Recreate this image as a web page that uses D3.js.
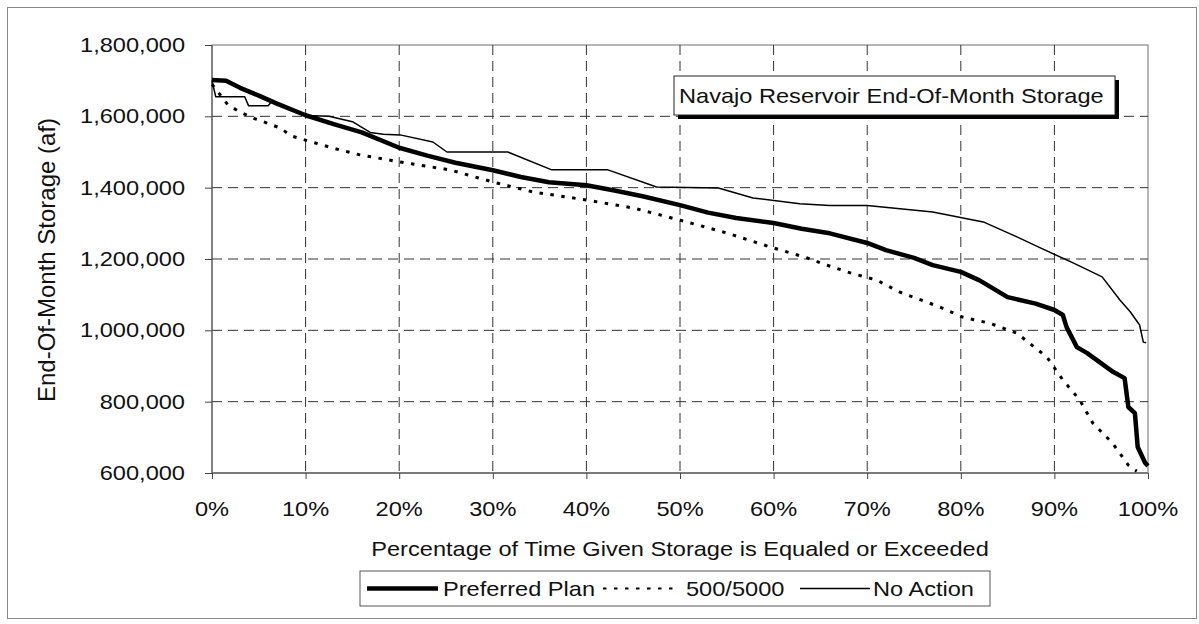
<!DOCTYPE html>
<html>
<head>
<meta charset="utf-8">
<script src="https://cdn.jsdelivr.net/npm/d3@7/dist/d3.min.js"></script>
<style>
  html, body { margin: 0; padding: 0; background: #fff; }
  svg { display: block; }
  text { font-family: "Liberation Sans", Arial, Helvetica, sans-serif; fill: #111; }
</style>
</head>
<body>
<svg id="chart" width="1199" height="624"></svg>
<script>
// ---- data ----
const seriesNames = ["Preferred Plan", "500/5000", "No Action"];
const chartTitle = "Navajo Reservoir End-Of-Month Storage";
const xAxisTitle = "Percentage of Time Given Storage is Equaled or Exceeded";
const yAxisTitle = "End-Of-Month Storage (af)";
const xTicks = [0, 10, 20, 30, 40, 50, 60, 70, 80, 90, 100];
const yTicks = [600000, 800000, 1000000, 1200000, 1400000, 1600000, 1800000];

const preferredPlan = [
  [0,1702000],[1.5,1700000],[3,1680000],[5,1658000],[7,1635000],[10,1603000],
  [13,1578000],[16,1555000],[20,1512000],[23,1490000],[26,1470000],[30,1449000],
  [33,1430000],[36,1415000],[40,1407000],[43,1392000],[46,1376000],[50,1351000],
  [53,1330000],[56,1315000],[60,1301000],[63,1285000],[66,1272000],[70,1245000],
  [72,1225000],[75,1203000],[77,1183000],[80,1164000],[82,1140000],[85,1093000],
  [88,1075000],[90,1057000],[90.9,1043000],[91.3,1009000],[92.4,953000],[93.5,936000],
  [96.3,883000],[97.5,866000],[97.9,785000],[98.6,768000],[98.9,673000],[99.7,628000],
  [100,620000]
];
const plan5005000 = [
  [0,1690000],[1.7,1632000],[3,1612000],[4.4,1595000],[5.9,1581000],[7.3,1567000],
  [8.5,1545000],[9.9,1534000],[12.9,1511000],[15.8,1492000],[20.1,1472000],[25.4,1450000],
  [30,1416000],[34.3,1388000],[40.1,1365000],[45,1343000],[50,1309000],[55,1273000],
  [59.6,1234000],[63.6,1203000],[65,1189000],[68.2,1161000],[71,1141000],[73.5,1107000],
  [77.8,1065000],[80.2,1037000],[83.1,1020000],[86,992000],[89.2,925000],[90.9,861000],
  [92.7,805000],[94.1,740000],[96.2,684000],[97.9,622000],[98.8,605000]
];
const noAction = [
  [0,1700000],[0.4,1655000],[3.5,1655000],[3.9,1630000],[6,1630000],[6.4,1642000],
  [8,1622000],[10,1602000],[12.5,1600000],[15,1585000],[16.9,1555000],[18.3,1550000],
  [20.1,1548000],[23.6,1528000],[25.1,1500000],[31.6,1500000],[36.3,1450000],[42.3,1450000],
  [47.5,1402000],[54.1,1399000],[57.8,1371000],[62.8,1355000],[66,1350000],[70,1350000],
  [77,1332000],[82.4,1304000],[86,1262000],[88.5,1231000],[92,1189000],[95.1,1150000],
  [97,1085000],[98.1,1052000],[99.1,1015000],[99.5,967000],[99.8,965000]
];

// ---- layout ----
const svg = d3.select("#chart");
const plot = { left: 212, right: 1148, top: 45, bottom: 473 };
const SX = 1.18; // horizontal stretch of the scanned lettering

const x = d3.scaleLinear().domain([0, 100]).range([plot.left, plot.right]);
const y = d3.scaleLinear().domain([600000, 1800000]).range([plot.bottom, plot.top]);

function stretchedText(parent, tx, ty, str, size, anchor) {
  const g = parent.append("g").attr("transform", `translate(${tx},${ty}) scale(${SX},1)`);
  g.append("text").attr("x", 0).attr("y", 0)
    .attr("font-size", size).attr("text-anchor", anchor || "start").text(str);
  return g;
}

// outer frame
svg.append("rect").attr("x", 7.5).attr("y", 7.5).attr("width", 1189).attr("height", 611)
  .attr("fill", "#fff").attr("stroke", "#888").attr("stroke-width", 1);

// plot area border
svg.append("rect").attr("x", plot.left).attr("y", plot.top)
  .attr("width", plot.right - plot.left).attr("height", plot.bottom - plot.top)
  .attr("fill", "#fff").attr("stroke", "#888").attr("stroke-width", 1.2);

// gridlines
const grid = svg.append("g");
grid.selectAll("line.h").data(yTicks.slice(1, -1)).enter().append("line")
  .attr("x1", plot.left).attr("x2", plot.right)
  .attr("y1", d => y(d)).attr("y2", d => y(d))
  .attr("stroke", "#333").attr("stroke-width", 1).attr("stroke-dasharray", "10,6");
grid.selectAll("line.v").data(xTicks.slice(1, -1)).enter().append("line")
  .attr("y1", plot.top).attr("y2", plot.bottom)
  .attr("x1", d => x(d)).attr("x2", d => x(d))
  .attr("stroke", "#333").attr("stroke-width", 1).attr("stroke-dasharray", "10,6");

// axes
const yAxis = svg.append("g").attr("transform", `translate(${plot.left},0)`)
  .call(d3.axisLeft(y).tickValues(yTicks).tickSize(7).tickFormat(""));
const xAxis = svg.append("g").attr("transform", `translate(0,${plot.bottom})`)
  .call(d3.axisBottom(x).tickValues(xTicks).tickSize(6).tickFormat(""));
[xAxis, yAxis].forEach(a => {
  a.select(".domain").attr("stroke", "#666").attr("stroke-width", 1.3);
  a.selectAll(".tick line").attr("stroke", "#444").attr("stroke-width", 1);
});
xAxis.select(".domain").attr("d", `M${plot.left},0H${plot.right}`);
yAxis.select(".domain").attr("d", `M0,${plot.bottom}V${plot.top}`);

// tick labels
const fmt = d3.format(",");
yTicks.forEach(v => stretchedText(svg, 185, y(v) + 7, fmt(v), 20, "end"));
xTicks.forEach(v => stretchedText(svg, x(v), 516, v + "%", 20, "middle"));

// axis titles
stretchedText(svg, (plot.left + plot.right) / 2, 556, xAxisTitle, 20, "middle");
svg.append("text").attr("transform", "translate(55,260) rotate(-90)")
  .attr("font-size", 24).attr("text-anchor", "middle").text(yAxisTitle);

// series
const line = d3.line().x(d => x(d[0])).y(d => y(d[1]));
const styles = [
  { data: preferredPlan, width: 4.5, dash: null, legendWidth: 4.5 },
  { data: plan5005000, width: 3, dash: "3.5,7.5", legendWidth: 2 },
  { data: noAction, width: 1.5, dash: null, legendWidth: 1.6 }
];
const seriesG = svg.append("g");
[styles[1], styles[2], styles[0]].forEach(s => {
  seriesG.append("path").datum(s.data).attr("d", line)
    .attr("fill", "none").attr("stroke", "#000")
    .attr("stroke-width", s.width).attr("stroke-linejoin", "round")
    .attr("stroke-dasharray", s.dash);
});

// title box with shadow
const tb = { x: 674, y: 76, w: 441, h: 39 };
svg.append("rect").attr("x", tb.x + 4).attr("y", tb.y + 4).attr("width", tb.w).attr("height", tb.h)
  .attr("fill", "#000");
svg.append("rect").attr("x", tb.x).attr("y", tb.y).attr("width", tb.w).attr("height", tb.h)
  .attr("fill", "#fff").attr("stroke", "#222").attr("stroke-width", 1);
stretchedText(svg, tb.x + 5, tb.y + 27, chartTitle, 20, "start");

// legend
const lg = { x: 360, y: 571, w: 630, h: 35 };
svg.append("rect").attr("x", lg.x).attr("y", lg.y).attr("width", lg.w).attr("height", lg.h)
  .attr("fill", "#fff").attr("stroke", "#555").attr("stroke-width", 1);
const legendItems = [
  { name: seriesNames[0], style: styles[0], x1: 367, x2: 438, tx: 443 },
  { name: seriesNames[1], style: styles[1], x1: 603, x2: 675, tx: 686 },
  { name: seriesNames[2], style: styles[2], x1: 800, x2: 870, tx: 873 }
];
const ly = lg.y + lg.h / 2;
legendItems.forEach(it => {
  svg.append("line").attr("x1", it.x1).attr("x2", it.x2).attr("y1", ly).attr("y2", ly)
    .attr("stroke", "#000").attr("stroke-width", it.style.legendWidth)
    .attr("stroke-dasharray", it.style.dash);
  stretchedText(svg, it.tx, ly + 7, it.name, 20, "start");
});
</script>
</body>
</html>
